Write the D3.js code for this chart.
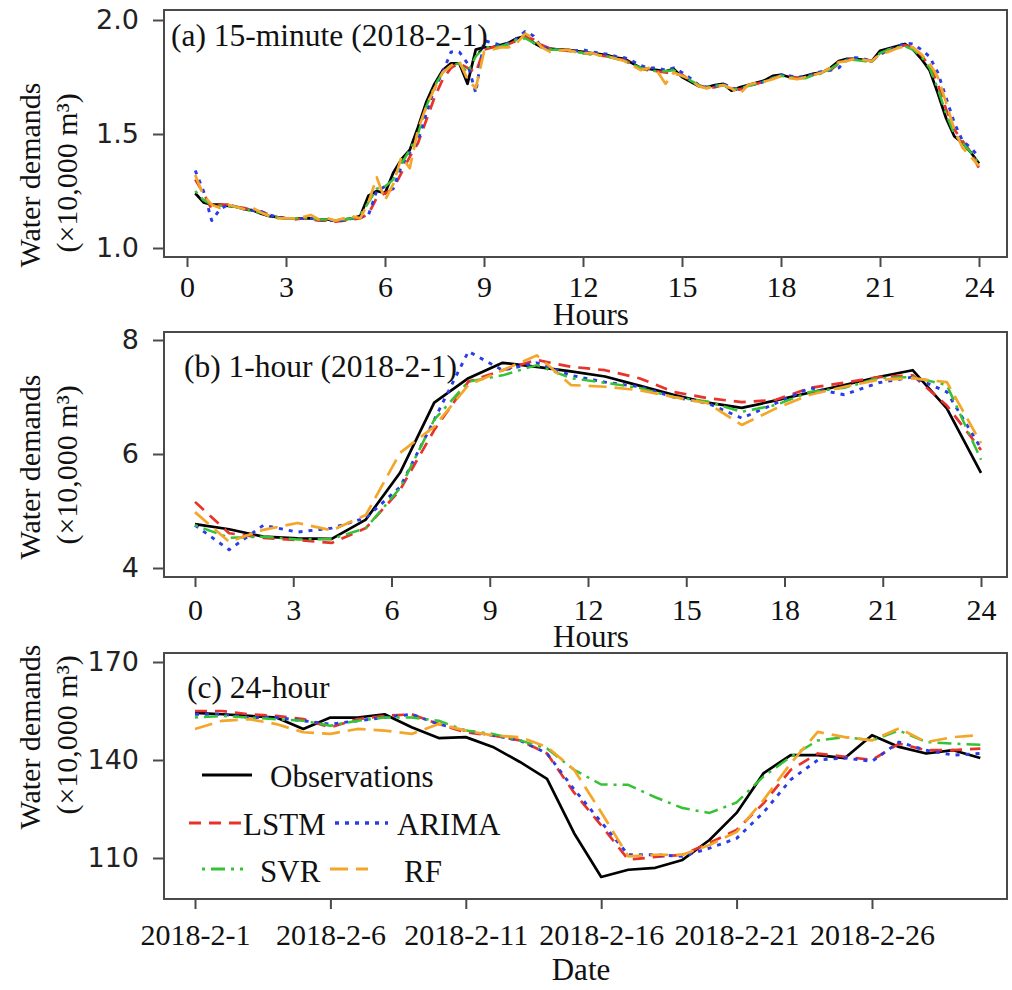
<!DOCTYPE html>
<html><head><meta charset="utf-8">
<script src="https://cdn.jsdelivr.net/npm/d3@7"></script>
<style>body{margin:0;background:#fff}svg{display:block}</style>
</head><body>
<svg id="chart" width="1012" height="990"></svg>
<script>
// ---------------- DATA ----------------
const seriesNames = ["Observations", "LSTM", "ARIMA", "SVR", "RF"];
const hourTicks = [0, 3, 6, 9, 12, 15, 18, 21, 24];
const dateTickLabels = ["2018-2-1", "2018-2-6", "2018-2-11", "2018-2-16", "2018-2-21", "2018-2-26"];

// (a) 15-minute, 96 points (0.25 h ... 24 h)
const obs15 = [
  1.24, 1.20, 1.19, 1.19, 1.185, 1.18, 1.17, 1.165, 1.15, 1.14, 1.135, 1.13,
  1.13, 1.13, 1.13, 1.125, 1.125, 1.12, 1.125, 1.13, 1.14, 1.23, 1.25, 1.24,
  1.33, 1.39, 1.43, 1.53, 1.64, 1.72, 1.78, 1.81, 1.81, 1.72, 1.87, 1.88,
  1.88, 1.89, 1.90, 1.92, 1.93, 1.90, 1.88, 1.875, 1.87, 1.87, 1.865, 1.86,
  1.855, 1.85, 1.845, 1.835, 1.83, 1.81, 1.79, 1.785, 1.78, 1.775, 1.785, 1.75,
  1.73, 1.71, 1.705, 1.715, 1.72, 1.69, 1.705, 1.715, 1.725, 1.735, 1.755, 1.76,
  1.75, 1.745, 1.755, 1.765, 1.77, 1.79, 1.82, 1.83, 1.83, 1.825, 1.82, 1.865,
  1.875, 1.885, 1.895, 1.87, 1.83, 1.78, 1.68, 1.57, 1.49, 1.46, 1.42, 1.37
];
const lstm15 = [
  1.30, 1.24, 1.17, 1.19, 1.19, 1.18, 1.175, 1.165, 1.16, 1.145, 1.135, 1.13,
  1.125, 1.13, 1.125, 1.12, 1.12, 1.115, 1.12, 1.125, 1.13, 1.15, 1.22, 1.24,
  1.26, 1.33, 1.40, 1.46, 1.56, 1.66, 1.74, 1.79, 1.81, 1.79, 1.77, 1.87,
  1.88, 1.885, 1.895, 1.91, 1.925, 1.915, 1.89, 1.875, 1.87, 1.865, 1.865, 1.855,
  1.85, 1.845, 1.84, 1.83, 1.825, 1.805, 1.785, 1.78, 1.775, 1.77, 1.765, 1.76,
  1.735, 1.715, 1.70, 1.705, 1.715, 1.70, 1.695, 1.71, 1.72, 1.73, 1.745, 1.755,
  1.755, 1.745, 1.75, 1.76, 1.77, 1.78, 1.81, 1.825, 1.83, 1.825, 1.82, 1.845,
  1.87, 1.88, 1.89, 1.88, 1.845, 1.80, 1.72, 1.61, 1.52, 1.47, 1.42, 1.35
];
const arima15 = [
  1.34, 1.25, 1.12, 1.17, 1.19, 1.18, 1.17, 1.165, 1.16, 1.145, 1.135, 1.13,
  1.13, 1.13, 1.13, 1.125, 1.12, 1.12, 1.12, 1.13, 1.135, 1.145, 1.25, 1.27,
  1.26, 1.36, 1.42, 1.47, 1.59, 1.70, 1.77, 1.86, 1.86, 1.81, 1.68, 1.91,
  1.90, 1.89, 1.90, 1.92, 1.95, 1.93, 1.88, 1.875, 1.87, 1.87, 1.865, 1.87,
  1.86, 1.855, 1.85, 1.84, 1.835, 1.82, 1.80, 1.79, 1.79, 1.78, 1.79, 1.77,
  1.745, 1.715, 1.705, 1.71, 1.72, 1.705, 1.69, 1.715, 1.72, 1.73, 1.745, 1.76,
  1.755, 1.75, 1.75, 1.765, 1.775, 1.78, 1.79, 1.825, 1.835, 1.83, 1.82, 1.85,
  1.87, 1.88, 1.90, 1.895, 1.87, 1.84, 1.77, 1.66, 1.55, 1.47, 1.44, 1.40
];
const svr15 = [
  1.25, 1.21, 1.19, 1.185, 1.185, 1.18, 1.17, 1.16, 1.155, 1.14, 1.135, 1.13,
  1.13, 1.13, 1.13, 1.125, 1.125, 1.12, 1.125, 1.13, 1.145, 1.20, 1.26, 1.27,
  1.30, 1.37, 1.43, 1.50, 1.62, 1.71, 1.77, 1.80, 1.81, 1.77, 1.84, 1.88,
  1.88, 1.885, 1.895, 1.915, 1.92, 1.90, 1.88, 1.87, 1.87, 1.865, 1.86, 1.855,
  1.85, 1.845, 1.84, 1.83, 1.82, 1.805, 1.79, 1.78, 1.775, 1.775, 1.78, 1.755,
  1.735, 1.715, 1.705, 1.71, 1.715, 1.695, 1.70, 1.71, 1.72, 1.73, 1.745, 1.755,
  1.75, 1.745, 1.745, 1.76, 1.765, 1.785, 1.81, 1.825, 1.825, 1.82, 1.815, 1.855,
  1.87, 1.88, 1.885, 1.87, 1.84, 1.79, 1.70, 1.59, 1.50, 1.46, 1.42, 1.37
];
const rf15 = [
  1.32, 1.23, 1.19, 1.175, 1.19, 1.18, 1.17, 1.175, 1.155, 1.14, 1.13, 1.13,
  1.13, 1.135, 1.145, 1.125, 1.13, 1.12, 1.13, 1.14, 1.13, 1.20, 1.31, 1.21,
  1.28, 1.40, 1.35, 1.52, 1.62, 1.70, 1.77, 1.80, 1.82, 1.74, 1.70, 1.86,
  1.87, 1.88, 1.88, 1.90, 1.94, 1.92, 1.88, 1.86, 1.865, 1.87, 1.86, 1.855,
  1.855, 1.845, 1.84, 1.83, 1.82, 1.80, 1.78, 1.79, 1.775, 1.72, 1.77, 1.755,
  1.74, 1.71, 1.70, 1.71, 1.715, 1.70, 1.675, 1.715, 1.725, 1.73, 1.74, 1.755,
  1.745, 1.74, 1.75, 1.76, 1.77, 1.79, 1.815, 1.82, 1.83, 1.825, 1.82, 1.85,
  1.86, 1.875, 1.885, 1.88, 1.85, 1.81, 1.75, 1.64, 1.52, 1.44, 1.40, 1.36
];

// (b) 1-hour, 24 points spread over 0..24 h
const obs1h   = [4.77, 4.68, 4.55, 4.52, 4.51, 4.85, 5.67, 6.90, 7.33, 7.60, 7.53, 7.45, 7.36, 7.20, 7.04, 6.90, 6.81, 6.94, 7.08, 7.21, 7.35, 7.47, 6.80, 5.67];
const lstm1h  = [5.16, 4.61, 4.53, 4.49, 4.44, 4.70, 5.37, 6.42, 7.27, 7.47, 7.65, 7.53, 7.47, 7.33, 7.09, 6.98, 6.91, 6.95, 7.16, 7.25, 7.35, 7.38, 6.85, 6.07];
const arima1h = [4.75, 4.32, 4.75, 4.63, 4.70, 4.88, 5.42, 6.60, 7.80, 7.47, 7.60, 7.38, 7.26, 7.18, 7.00, 6.89, 6.63, 6.89, 7.16, 7.04, 7.25, 7.35, 7.09, 6.10];
const svr1h   = [4.75, 4.53, 4.55, 4.50, 4.51, 4.70, 5.40, 6.60, 7.27, 7.38, 7.56, 7.33, 7.25, 7.16, 7.00, 6.92, 6.74, 6.86, 7.09, 7.16, 7.33, 7.35, 7.21, 5.90];
const rf1h    = [4.98, 4.46, 4.67, 4.79, 4.66, 4.93, 6.02, 6.48, 7.21, 7.47, 7.73, 7.21, 7.18, 7.12, 7.00, 6.89, 6.51, 6.80, 7.04, 7.18, 7.30, 7.33, 7.26, 6.19];

// (c) 24-hour, 30 daily points from 2018-2-1
const obsDay   = [154.4, 154, 153.5, 153, 149.5, 153, 153, 154, 150, 146.7, 147, 144, 139.4, 134.2, 117.6, 104.2, 106.4, 107, 109.4, 115.5, 123.8, 136, 141.5, 141.5, 140.6, 147.6, 144, 142, 143, 140.6];
const lstmDay  = [155, 155, 154, 153.5, 152.5, 150, 152.5, 153.5, 154, 151, 148.5, 147.5, 146, 142, 130, 120, 109.5, 110.3, 111, 114.6, 118.6, 126.8, 137, 142, 141, 140, 145, 143, 143, 143.5];
const arimaDay = [154, 154, 153, 153, 152, 151, 152, 153, 154, 151, 149, 147.5, 146, 142, 131, 121, 111, 111, 110.5, 113, 116, 124, 134, 140, 140.6, 139.6, 145.5, 143, 141.5, 142];
const svrDay   = [153, 153.5, 153, 152.5, 152, 150.5, 152, 153, 153, 152, 149, 148, 146, 143.5, 137, 132.5, 132.4, 128.6, 125.3, 123.8, 127, 135, 141, 146, 147, 146, 149, 145.5, 145, 144.7];
const rfDay    = [149.5, 152, 152.5, 151, 148.5, 148, 149.5, 149, 148, 151, 149, 147.5, 147, 144, 137, 124, 110.5, 111, 111, 114, 118, 127.8, 139, 148.6, 147, 146, 149.7, 145.5, 147, 147.6];

// ---------------- STYLE / LAYOUT ----------------
const SERIF = "'Liberation Serif','Times New Roman',serif";
const SANS = "'DejaVu Sans',sans-serif";
const styles = [
  {color: "#000000", dash: null,       width: 2.7},
  {color: "#e8322a", dash: "12,8",     width: 2.7},
  {color: "#2a3ce6", dash: "4,6",      width: 2.9},
  {color: "#35c235", dash: "3,6,14,6", width: 2.5},
  {color: "#f4a62a", dash: "18,8",     width: 2.7}
];
const BOX_L = 164, BOX_R = 1007, FRAME = "#4a4a4a";

const svg = d3.select("#chart");

function panel(cfg) {
  const x = d3.scaleLinear().domain(cfg.xDomain).range(cfg.xRange);
  const y = d3.scaleLinear().domain(cfg.yDomain).range(cfg.yRange);

  const line = d3.line().x(d => x(d[0])).y(d => y(d[1]));
  cfg.data.forEach((vals, k) => {
    const st = styles[k];
    svg.append("path")
      .datum(vals.map((v, i) => [cfg.xs[i], v]))
      .attr("d", line)
      .attr("fill", "none")
      .attr("stroke", st.color)
      .attr("stroke-width", st.width)
      .attr("stroke-linejoin", "round")
      .attr("stroke-dasharray", st.dash);
  });

  svg.append("rect")
    .attr("x", BOX_L).attr("y", cfg.top)
    .attr("width", BOX_R - BOX_L).attr("height", cfg.bottom - cfg.top)
    .attr("fill", "none").attr("stroke", FRAME).attr("stroke-width", 2);

  const gx = svg.append("g").attr("transform", `translate(0,${cfg.bottom})`)
    .call(d3.axisBottom(x).tickValues(cfg.xTicks).tickFormat(cfg.xFmt).tickSize(10).tickPadding(cfg.xPad));
  gx.select(".domain").remove();
  gx.selectAll(".tick line").attr("stroke", FRAME).attr("stroke-width", 2);
  gx.selectAll(".tick text").attr("font-family", SERIF).attr("font-size", 30).attr("fill", "#111");

  const gy = svg.append("g").attr("transform", `translate(${BOX_L},0)`)
    .call(d3.axisLeft(y).tickValues(cfg.yTicks).tickFormat(cfg.yFmt).tickSize(11).tickPadding(14));
  gy.select(".domain").remove();
  gy.selectAll(".tick line").attr("stroke", FRAME).attr("stroke-width", 2);
  gy.selectAll(".tick text").attr("font-family", SANS).attr("font-size", 27).attr("fill", "#222");

  svg.append("text").attr("x", cfg.titleX).attr("y", cfg.titleY)
    .attr("font-family", SERIF).attr("font-size", 31.5).attr("fill", "#111").text(cfg.title);

  svg.append("text").attr("x", cfg.xLabelX).attr("y", cfg.xLabelY).attr("text-anchor", "middle")
    .attr("font-family", SERIF).attr("font-size", 31).attr("fill", "#111").text(cfg.xLabel);

  svg.append("text").attr("transform", `translate(40,${cfg.yLabelC}) rotate(-90)`)
    .attr("text-anchor", "middle").attr("font-family", SERIF).attr("font-size", 30).attr("fill", "#111")
    .text("Water demands");
  svg.append("text").attr("transform", `translate(77,${cfg.yLabelC - 2}) rotate(-90)`)
    .attr("text-anchor", "middle").attr("font-family", SERIF).attr("font-size", 30).attr("fill", "#111")
    .text("(\u00D710,000 m\u00B3)");
  return {x, y};
}

const quarterHours = d3.range(1, 97).map(k => k / 4);
const hourSlots = d3.range(24).map(i => i * 24 / 23);
const dayIndex = d3.range(30);

panel({
  top: 10, bottom: 257, xDomain: [0, 24], xRange: [187, 979], yDomain: [1, 2], yRange: [248, 20],
  xs: quarterHours, data: [obs15, lstm15, arima15, svr15, rf15],
  xTicks: hourTicks, xFmt: d3.format("d"), xPad: 9,
  yTicks: [1.0, 1.5, 2.0], yFmt: d3.format(".1f"),
  title: "(a) 15-minute (2018-2-1)", titleX: 171, titleY: 46,
  xLabel: "Hours", xLabelX: 591, xLabelY: 325, yLabelC: 175
});
panel({
  top: 332, bottom: 577, xDomain: [0, 24], xRange: [195, 981], yDomain: [4, 8], yRange: [568, 340],
  xs: hourSlots, data: [obs1h, lstm1h, arima1h, svr1h, rf1h],
  xTicks: hourTicks, xFmt: d3.format("d"), xPad: 12,
  yTicks: [4, 6, 8], yFmt: d3.format("d"),
  title: "(b) 1-hour (2018-2-1)", titleX: 184, titleY: 377,
  xLabel: "Hours", xLabelX: 591, xLabelY: 647, yLabelC: 467
});
panel({
  top: 653, bottom: 899, xDomain: [0, 29], xRange: [195, 980.3], yDomain: [110, 170], yRange: [858, 662],
  xs: dayIndex, data: [obsDay, lstmDay, arimaDay, svrDay, rfDay],
  xTicks: [0, 5, 10, 15, 20, 25], xFmt: (d, i) => dateTickLabels[i], xPad: 15,
  yTicks: [110, 140, 170], yFmt: d3.format("d"),
  title: "(c) 24-hour", titleX: 187, titleY: 698,
  xLabel: "Date", xLabelX: 581, xLabelY: 980, yLabelC: 737
});

// ---------------- LEGEND (panel c) ----------------
const legendLayout = [
  {x1: 202, x2: 252, y: 775, tx: 270, ty: 787},
  {x1: 189, x2: 243, y: 823, tx: 243, ty: 835},
  {x1: 335, x2: 388, y: 823, tx: 397, ty: 835},
  {x1: 202, x2: 243, y: 869, tx: 260, ty: 882},
  {x1: 330, x2: 368, y: 869, tx: 404, ty: 882}
];
seriesNames.forEach((name, k) => {
  const L = legendLayout[k], st = styles[k];
  svg.append("line").attr("x1", L.x1).attr("x2", L.x2).attr("y1", L.y).attr("y2", L.y)
    .attr("stroke", st.color).attr("stroke-width", st.width + 0.4).attr("stroke-dasharray", st.dash);
  svg.append("text").attr("x", L.tx).attr("y", L.ty)
    .attr("font-family", SERIF).attr("font-size", 31).attr("fill", "#111").text(name);
});
</script>
</body></html>
